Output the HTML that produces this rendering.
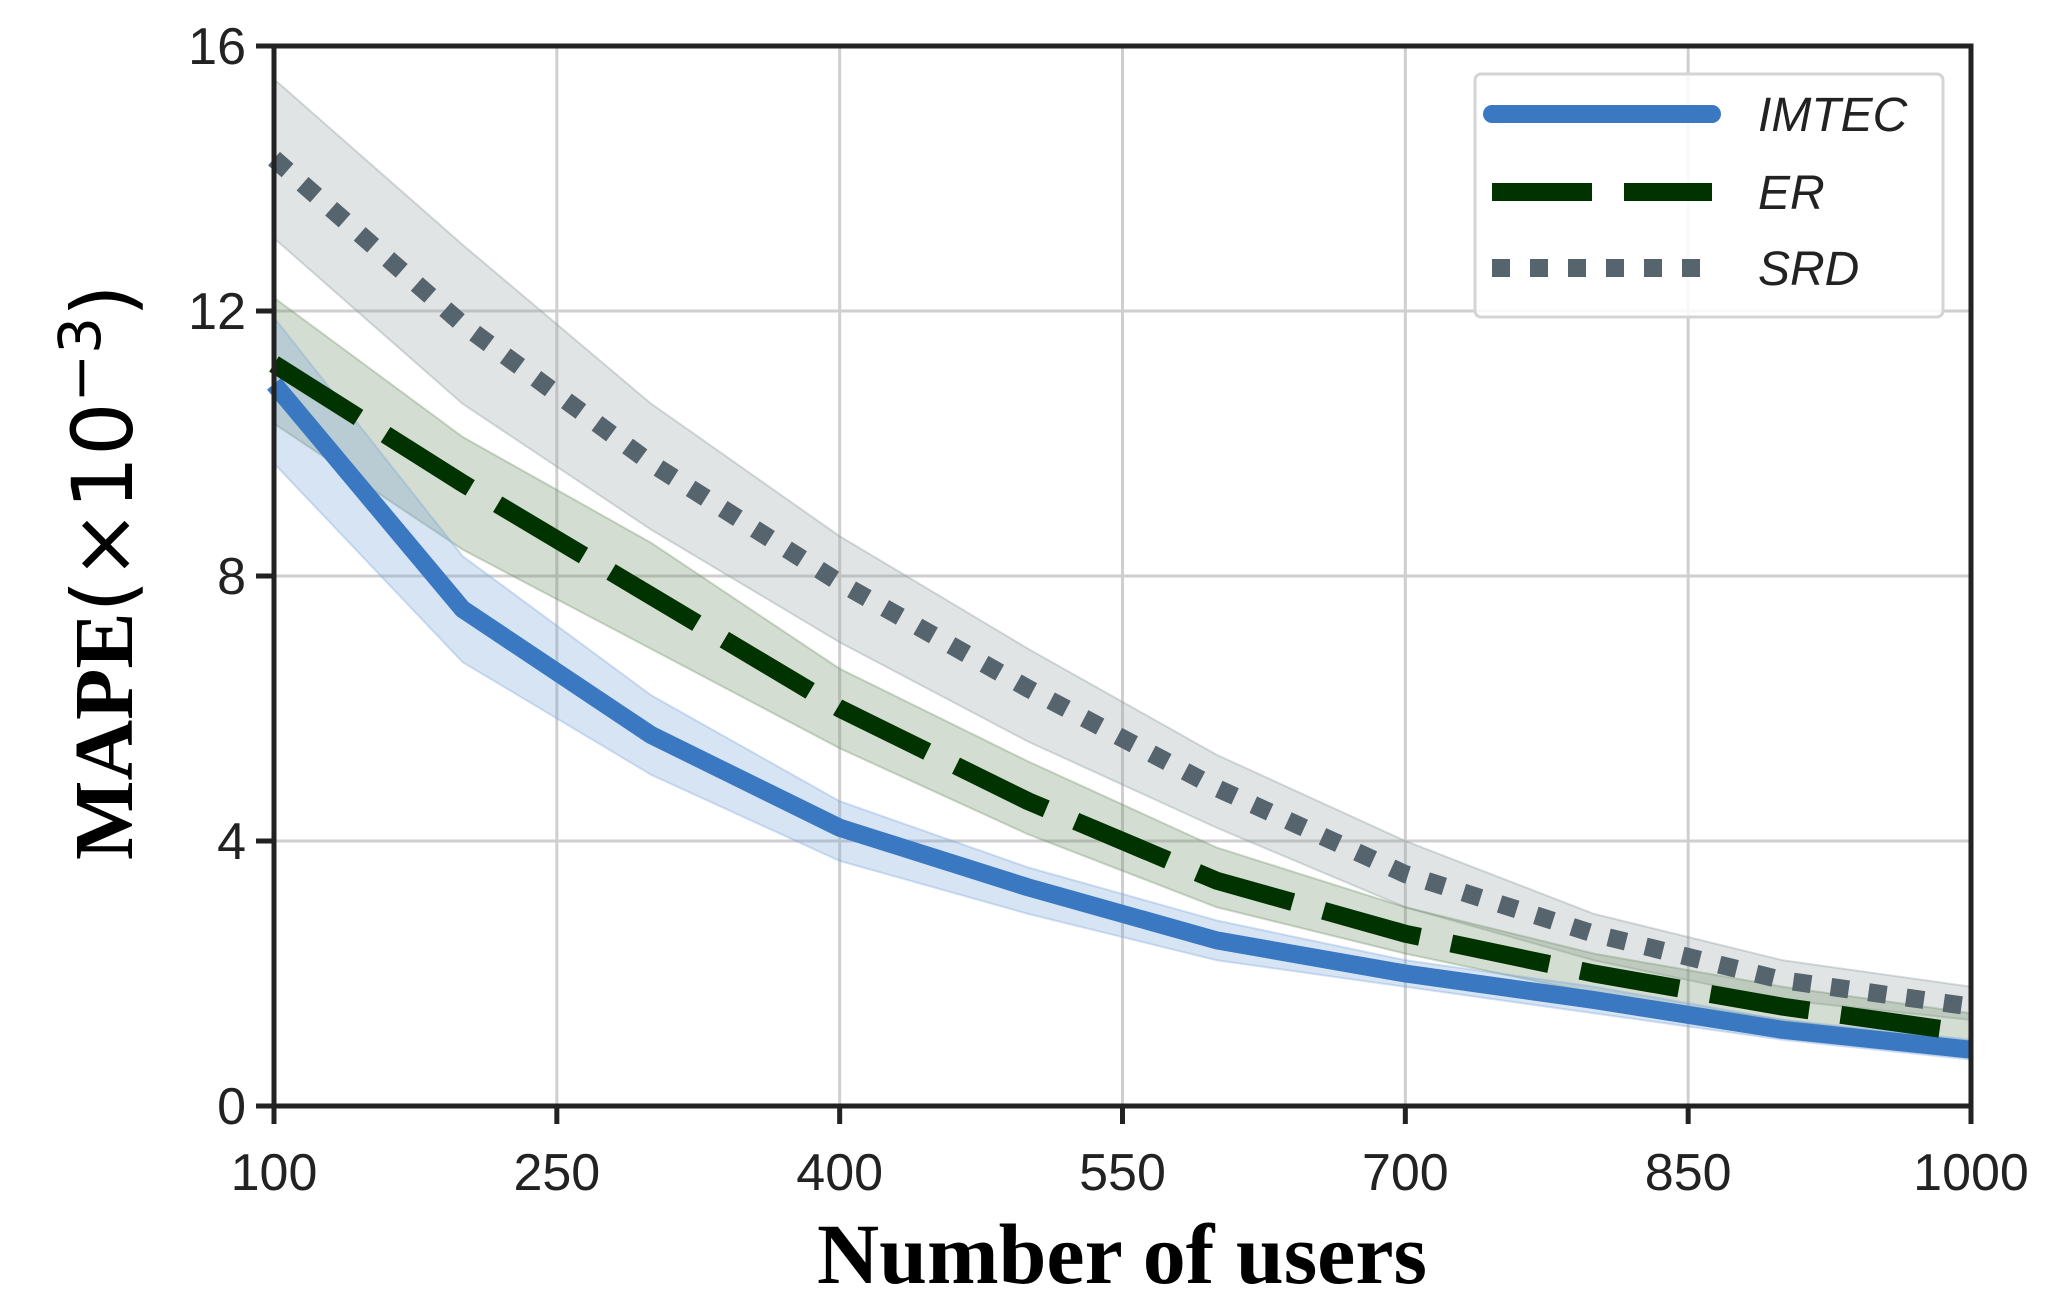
<!DOCTYPE html>
<html><head><meta charset="utf-8"><style>
html,body{margin:0;padding:0;background:#fff;}
svg{display:block;}
</style></head><body>
<svg id="chart" width="2047" height="1314" viewBox="0 0 2047 1314" xmlns="http://www.w3.org/2000/svg">
<g id="grid"></g>
<g id="bands"></g>
<g id="lines"></g>
<g id="axes"></g>
<text x="1122" y="1283" text-anchor="middle" font-family="Liberation Serif, serif" font-weight="bold" font-size="86">Number of users</text>
<text transform="translate(132,572) rotate(-90)" text-anchor="middle" font-size="84"><tspan font-family="Liberation Serif, serif" font-weight="bold">MAPE</tspan><tspan font-family="DejaVu Sans, sans-serif">(×10</tspan><tspan font-family="DejaVu Sans, sans-serif" font-size="58" dy="-32">−3</tspan><tspan font-family="DejaVu Sans, sans-serif" dy="32">)</tspan></text>
<g id="legend">
<rect x="1475" y="74" width="468" height="243" rx="6" fill="#fff" fill-opacity="0.85" stroke="#d4d4d4" stroke-width="3"/>
<line x1="1492" y1="114" x2="1712" y2="114" stroke="#3a78c2" stroke-width="18" stroke-linecap="round"/>
<text x="1758" y="131" font-family="Liberation Sans, sans-serif" font-style="italic" font-size="48" fill="#222">IMTEC</text>
<line x1="1492" y1="192" x2="1712" y2="192" stroke="#003300" stroke-width="18" stroke-dasharray="100 32"/>
<text x="1758" y="209" font-family="Liberation Sans, sans-serif" font-style="italic" font-size="48" fill="#222">ER</text>
<line x1="1492" y1="268" x2="1712" y2="268" stroke="#56646e" stroke-width="18" stroke-dasharray="18 20"/>
<text x="1758" y="285" font-family="Liberation Sans, sans-serif" font-style="italic" font-size="48" fill="#222">SRD</text>
</g>
</svg>
<script>
const xs = [100,200,300,400,500,600,700,800,900,1000];
const imtec = [10.9,7.5,5.6,4.2,3.3,2.5,2.0,1.6,1.15,0.85];
const imtecLo = [9.7,6.7,5.0,3.7,2.9,2.2,1.8,1.4,1.0,0.7];
const imtecHi = [11.9,8.3,6.2,4.6,3.6,2.8,2.2,1.8,1.3,1.0];
const er = [11.2,9.4,7.7,6.0,4.6,3.4,2.6,2.0,1.5,1.1];
const erLo = [10.3,8.4,6.9,5.4,4.1,3.0,2.3,1.7,1.3,0.9];
const erHi = [12.2,10.1,8.5,6.6,5.2,3.9,3.0,2.3,1.8,1.4];
const srd = [14.3,11.8,9.7,7.9,6.3,4.8,3.5,2.6,1.9,1.5];
const srdLo = [13.1,10.6,8.7,7.0,5.5,4.2,3.0,2.2,1.6,1.3];
const srdHi = [15.5,13.0,10.6,8.6,6.9,5.3,4.0,2.9,2.2,1.8];
const xTicks = [100,250,400,550,700,850,1000];
const yTicks = [0,4,8,12,16];

const L=274,R=1971,T=46,B=1106;
const sx=v=>L+(v-100)/900*(R-L);
const sy=v=>B-v/16*(B-T);
const NS="http://www.w3.org/2000/svg";
function mk(tag,parent,attrs){const e=document.createElementNS(NS,tag);for(const k in attrs)e.setAttribute(k,attrs[k]);parent.appendChild(e);return e;}
const grid=document.getElementById('grid'),bands=document.getElementById('bands'),lines=document.getElementById('lines'),axes=document.getElementById('axes');
xTicks.forEach(t=>{const g=mk('line',grid,{x1:sx(t),x2:sx(t),y1:T,y2:B,stroke:'#cfcfcf','stroke-width':3});


const tk=mk('line',axes,{x1:sx(t),x2:sx(t),y1:B,y2:B+18,stroke:'#222','stroke-width':5});


const lb=mk('text',axes,{x:sx(t),y:1190,'text-anchor':'middle','font-family':'Liberation Sans, sans-serif','font-size':52,fill:'#222'});lb.textContent=t;

});
yTicks.forEach(t=>{const g=mk('line',grid,{x1:L,x2:R,y1:sy(t),y2:sy(t),stroke:'#cfcfcf','stroke-width':3});


const tk=mk('line',axes,{x1:L-18,x2:L,y1:sy(t),y2:sy(t),stroke:'#222','stroke-width':5});


const lb=mk('text',axes,{x:L-28,y:sy(t)+18,'text-anchor':'end','font-family':'Liberation Sans, sans-serif','font-size':52,fill:'#222'});lb.textContent=t;

});
function band(lo,hi,fill,stroke,name){let d='M'+xs.map((x,i)=>sx(x)+','+sy(hi[i])).join('L');
for(let i=xs.length-1;i>=0;i--)d+='L'+sx(xs[i])+','+sy(lo[i]);d+='Z';
const p=mk('path',bands,{d:d,fill:fill,'fill-opacity':0.3,stroke:stroke,'stroke-opacity':0.35,'stroke-width':2});

}
band(srdLo,srdHi,'#9aa6aa','#8a989c','srd-band');
band(erLo,erHi,'#6f9068','#6f9068','er-band');
band(imtecLo,imtecHi,'#7aa6dc','#7aa6dc','imtec-band');
function line(vals,attrs,name){const d='M'+xs.map((x,i)=>sx(x)+','+sy(vals[i])).join('L');
const p=mk('path',lines,Object.assign({d:d,fill:'none','stroke-linejoin':'round'},attrs));

}
line(imtec,{stroke:'#3a78c2','stroke-width':18},'imtec-line');
line(er,{stroke:'#003300','stroke-width':18,'stroke-dasharray':'100 32'},'er-line');
line(srd,{stroke:'#56646e','stroke-width':18,'stroke-dasharray':'18 20'},'srd-line');
const fr=mk('rect',axes,{x:L,y:T,width:R-L,height:B-T,fill:'none',stroke:'#222','stroke-width':5});


</script>
</body></html>
